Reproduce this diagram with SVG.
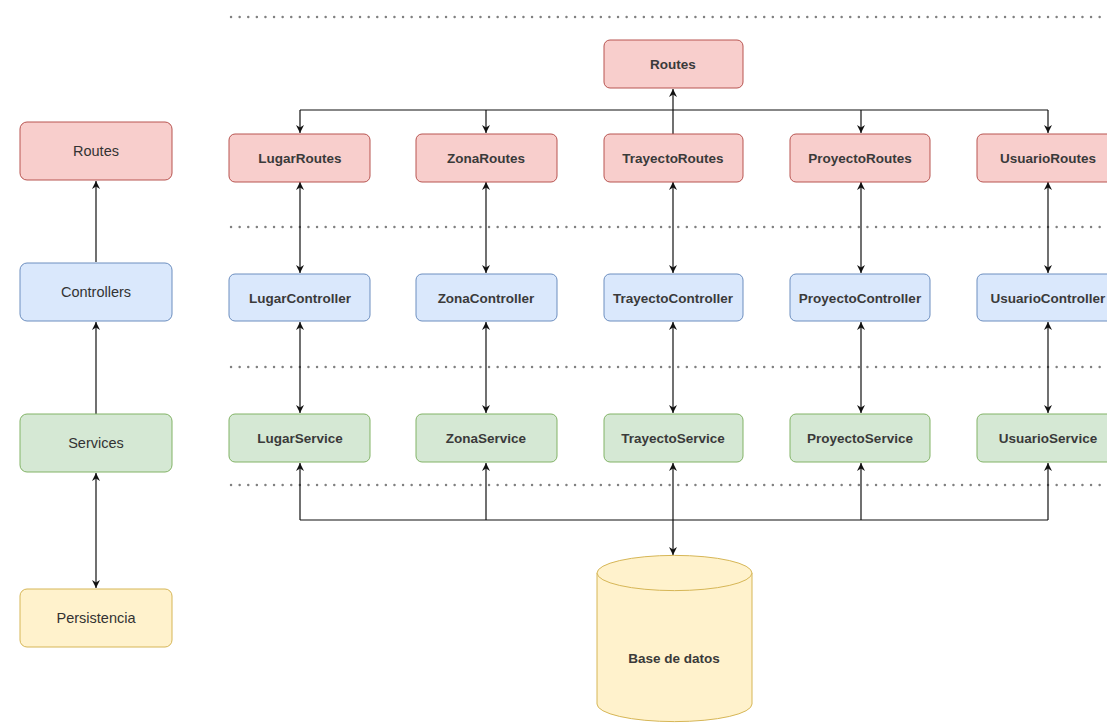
<svg xmlns="http://www.w3.org/2000/svg" width="1107" height="725" viewBox="0 0 1107 725">
<style>
.r{fill:#f8cecc;stroke:#b85450;stroke-width:1}
.b{fill:#dae8fc;stroke:#6c8ebf;stroke-width:1}
.g{fill:#d5e8d4;stroke:#82b366;stroke-width:1}
.y{fill:#fff2cc;stroke:#d6b656;stroke-width:1}
.t{font-family:"Liberation Sans",Arial,sans-serif;font-size:13.5px;font-weight:bold;fill:#3a3a3a;text-anchor:middle;dominant-baseline:central}
.l{font-family:"Liberation Sans",Arial,sans-serif;font-size:14.5px;fill:#333;text-anchor:middle;dominant-baseline:central}
.c{fill:none;stroke:#111;stroke-width:1.2}
.d{fill:none;stroke:#808080;stroke-width:2.4;stroke-dasharray:0.1 8.5;stroke-linecap:round}
</style>
<defs>
<marker id="a" viewBox="0 0 10 10" refX="10" refY="5" markerWidth="8" markerHeight="8" markerUnits="userSpaceOnUse" orient="auto-start-reverse">
<path d="M0,0 L10,5 L0,10 L3,5 z" fill="#111"/>
</marker>
</defs>
<rect width="1107" height="725" fill="#fff"/>
<g id="separators">
<line class="d" x1="231" y1="17" x2="1107" y2="17"/>
<line class="d" x1="231" y1="227" x2="1107" y2="227"/>
<line class="d" x1="231" y1="367" x2="1107" y2="367"/>
<line class="d" x1="231" y1="485" x2="1107" y2="485"/>
</g>
<g id="connectors">
<line class="c" x1="96" y1="262" x2="96" y2="181" marker-end="url(#a)"/>
<line class="c" x1="96" y1="414" x2="96" y2="322" marker-end="url(#a)"/>
<line class="c" x1="96" y1="473" x2="96" y2="588" marker-start="url(#a)" marker-end="url(#a)"/>
<polyline class="c" points="300,110 300,133" marker-end="url(#a)"/>
<polyline class="c" points="486,110 486,133" marker-end="url(#a)"/>
<polyline class="c" points="861,110 861,133" marker-end="url(#a)"/>
<polyline class="c" points="1048,110 1048,133" marker-end="url(#a)"/>
<line class="c" x1="300" y1="110" x2="1048" y2="110"/>
<line class="c" x1="673" y1="134" x2="673" y2="89" marker-end="url(#a)"/>
<line class="c" x1="300" y1="182" x2="300" y2="273" marker-start="url(#a)" marker-end="url(#a)"/>
<line class="c" x1="486" y1="182" x2="486" y2="273" marker-start="url(#a)" marker-end="url(#a)"/>
<line class="c" x1="673" y1="182" x2="673" y2="273" marker-start="url(#a)" marker-end="url(#a)"/>
<line class="c" x1="861" y1="182" x2="861" y2="273" marker-start="url(#a)" marker-end="url(#a)"/>
<line class="c" x1="1048" y1="182" x2="1048" y2="273" marker-start="url(#a)" marker-end="url(#a)"/>
<line class="c" x1="300" y1="322" x2="300" y2="413" marker-start="url(#a)" marker-end="url(#a)"/>
<line class="c" x1="486" y1="322" x2="486" y2="413" marker-start="url(#a)" marker-end="url(#a)"/>
<line class="c" x1="673" y1="322" x2="673" y2="413" marker-start="url(#a)" marker-end="url(#a)"/>
<line class="c" x1="861" y1="322" x2="861" y2="413" marker-start="url(#a)" marker-end="url(#a)"/>
<line class="c" x1="1048" y1="322" x2="1048" y2="413" marker-start="url(#a)" marker-end="url(#a)"/>
<line class="c" x1="300" y1="520" x2="1048" y2="520"/>
<line class="c" x1="300" y1="520" x2="300" y2="463" marker-end="url(#a)"/>
<line class="c" x1="486" y1="520" x2="486" y2="463" marker-end="url(#a)"/>
<line class="c" x1="861" y1="520" x2="861" y2="463" marker-end="url(#a)"/>
<line class="c" x1="1048" y1="520" x2="1048" y2="463" marker-end="url(#a)"/>
<line class="c" x1="673" y1="463" x2="673" y2="555" marker-start="url(#a)" marker-end="url(#a)"/>
</g>
<g id="legend-routes"><rect class="r" x="20" y="122" width="152" height="58" rx="7"/><text class="l" x="96" y="151">Routes</text></g>
<g id="legend-controllers"><rect class="b" x="20" y="263" width="152" height="58" rx="7"/><text class="l" x="96" y="292">Controllers</text></g>
<g id="legend-services"><rect class="g" x="20" y="414" width="152" height="58" rx="7"/><text class="l" x="96" y="443">Services</text></g>
<g id="legend-persistencia"><rect class="y" x="20" y="589" width="152" height="58" rx="7"/><text class="l" x="96" y="618">Persistencia</text></g>
<g id="routes"><rect class="r" x="604" y="40" width="139" height="48" rx="6"/><text class="t" x="673" y="64">Routes</text></g>
<g id="lugar-routes"><rect class="r" x="229" y="134" width="141" height="48" rx="6"/><text class="t" x="300" y="158">LugarRoutes</text></g>
<g id="zona-routes"><rect class="r" x="416" y="134" width="141" height="48" rx="6"/><text class="t" x="486" y="158">ZonaRoutes</text></g>
<g id="trayecto-routes"><rect class="r" x="604" y="134" width="139" height="48" rx="6"/><text class="t" x="673" y="158">TrayectoRoutes</text></g>
<g id="proyecto-routes"><rect class="r" x="790" y="134" width="140" height="48" rx="6"/><text class="t" x="860" y="158">ProyectoRoutes</text></g>
<g id="usuario-routes"><rect class="r" x="977" y="134" width="142" height="48" rx="6"/><text class="t" x="1048" y="158">UsuarioRoutes</text></g>
<g id="lugar-controller"><rect class="b" x="229" y="274" width="141" height="47" rx="6"/><text class="t" x="300" y="298">LugarController</text></g>
<g id="zona-controller"><rect class="b" x="416" y="274" width="141" height="47" rx="6"/><text class="t" x="486" y="298">ZonaController</text></g>
<g id="trayecto-controller"><rect class="b" x="604" y="274" width="139" height="47" rx="6"/><text class="t" x="673" y="298">TrayectoController</text></g>
<g id="proyecto-controller"><rect class="b" x="790" y="274" width="140" height="47" rx="6"/><text class="t" x="860" y="298">ProyectoController</text></g>
<g id="usuario-controller"><rect class="b" x="977" y="274" width="142" height="47" rx="6"/><text class="t" x="1048" y="298">UsuarioController</text></g>
<g id="lugar-service"><rect class="g" x="229" y="414" width="141" height="48" rx="6"/><text class="t" x="300" y="438">LugarService</text></g>
<g id="zona-service"><rect class="g" x="416" y="414" width="141" height="48" rx="6"/><text class="t" x="486" y="438">ZonaService</text></g>
<g id="trayecto-service"><rect class="g" x="604" y="414" width="139" height="48" rx="6"/><text class="t" x="673" y="438">TrayectoService</text></g>
<g id="proyecto-service"><rect class="g" x="790" y="414" width="140" height="48" rx="6"/><text class="t" x="860" y="438">ProyectoService</text></g>
<g id="usuario-service"><rect class="g" x="977" y="414" width="142" height="48" rx="6"/><text class="t" x="1048" y="438">UsuarioService</text></g>
<g id="base-de-datos">
<path class="y" d="M597,573 A77,17.5 0 0 1 752,573 L752,704 A77,17.5 0 0 1 597,704 Z"/>
<path class="y" fill="none" d="M597,573 A77,17.5 0 0 0 752,573"/>
<text class="t" x="674" y="658">Base de datos</text>
</g>
</svg>
